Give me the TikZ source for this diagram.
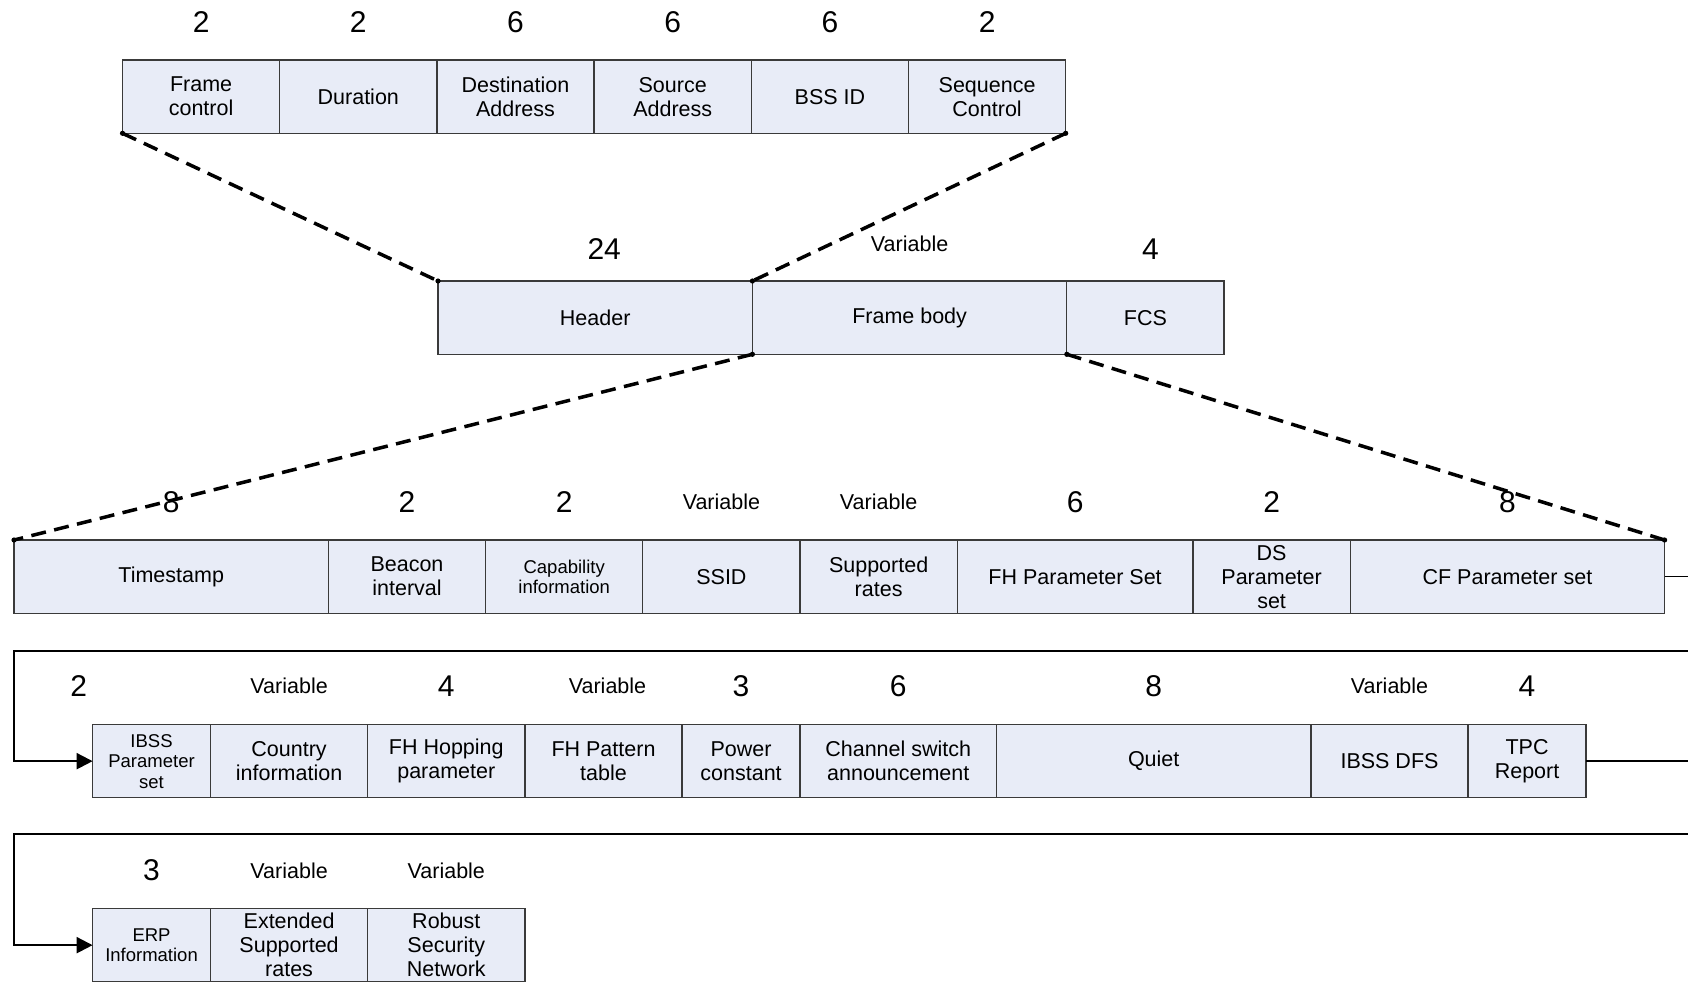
\documentclass[tikz,border=0pt]{standalone}
\usepackage{fontspec}
\setmainfont{Liberation Sans}
\usetikzlibrary{arrows.meta}

\definecolor{boxfill}{HTML}{E8ECF7}
\definecolor{boxline}{HTML}{3A3A3A}

\newcommand{\lblfont}{\fontsize{21.5}{24}\selectfont}
\newcommand{\smallfont}{\fontsize{18.5}{20.5}\selectfont}
\newcommand{\numfont}{\fontsize{30}{30}\selectfont}

\begin{document}
\begin{tikzpicture}[x=1pt,y=-1pt,
  field/.style={draw=boxline, fill=boxfill, line width=1.3pt, inner sep=0pt,
    outer sep=0pt, minimum height=73.3pt, anchor=north west, align=center,
    font=\lblfont},
  w/.style={minimum width=#1*78.6pt},
  small/.style={font=\smallfont},
  num/.style={font=\numfont, anchor=base, inner sep=0pt},
  var/.style={font=\lblfont, anchor=base, inner sep=0pt},
  zoomlink/.style={line width=3.5pt, dash pattern=on 15pt off 8.5pt},
  stub/.style={line width=1.6pt},
  feed/.style={line width=2.2pt, -{Triangle[length=16pt,width=16pt]}},
]
\useasboundingbox (0,0) rectangle (1688,982);
\clip (0,0) rectangle (1688,982);
\fill[white] (0,0) rectangle (1688,982);

% baselines of the size labels, one per row
\coordinate (bA)  at (0,32.3);
\coordinate (bB)  at (0,259);
\coordinate (bBv) at (0,251);
\coordinate (bC)  at (0,512.3);
\coordinate (bCv) at (0,509);
\coordinate (bD)  at (0,696.5);
\coordinate (bDv) at (0,693);
\coordinate (bE)  at (0,880.5);
\coordinate (bEv) at (0,878);

% MAC header fields
\node[field,w=2] (fc)  at (122.5,60)     {Frame\\control};
\node[field,w=2] (dur) at (fc.north east)  {Duration};
\node[field,w=2] (da)  at (dur.north east) {Destination\\Address};
\node[field,w=2] (sa)  at (da.north east)  {Source\\Address};
\node[field,w=2] (bss) at (sa.north east)  {BSS ID};
\node[field,w=2] (seq) at (bss.north east) {Sequence\\Control};
\node[num] (nfc)  at (fc |- bA)  {2};
\node[num] (ndur) at (dur |- bA) {2};
\node[num] (nda)  at (da |- bA)  {6};
\node[num] (nsa)  at (sa |- bA)  {6};
\node[num] (nbss) at (bss |- bA) {6};
\node[num] (nseq) at (seq |- bA) {2};

% MAC frame
\node[field,w=4] (hdr)  at (438,281)        {Header};
\node[field,w=4] (body) at (hdr.north east)  {Frame body};
\node[field,w=2] (fcs)  at (body.north east) {FCS};
\node[num,xshift=9pt] (nhdr) at (hdr |- bB) {24};
\node[var] (nbody) at (body |- bBv) {Variable};
\node[num,xshift=5pt] (nfcs) at (fcs |- bB) {4};

% beacon frame body, first line
\node[field,w=4] (ts)   at (14,540)         {Timestamp};
\node[field,w=2] (bi)   at (ts.north east)   {Beacon\\interval};
\node[field,w=2,small] (cap) at (bi.north east) {Capability\\information};
\node[field,w=2] (ssid) at (cap.north east)  {SSID};
\node[field,w=2] (sr)   at (ssid.north east) {Supported\\rates};
\node[field,w=3] (fh)   at (sr.north east)   {FH Parameter Set};
\node[field,w=2] (ds)   at (fh.north east)   {DS\\Parameter\\set};
\node[field,w=4] (cf)   at (ds.north east)   {CF Parameter set};
\node[num] (nts)   at (ts |- bC)    {8};
\node[num] (nbi)   at (bi |- bC)    {2};
\node[num] (ncap)  at (cap |- bC)   {2};
\node[var] (nssid) at (ssid |- bCv) {Variable};
\node[var] (nsr)   at (sr |- bCv)   {Variable};
\node[num] (nfh)   at (fh |- bC)    {6};
\node[num] (nds)   at (ds |- bC)    {2};
\node[num] (ncf)   at (cf |- bC)    {8};

% second line
\node[field,w=1.5,small] (ibss) at (92.6,724.5) {IBSS\\Parameter\\set};
\node[field,w=2]   (ci)    at (ibss.north east) {Country\\information};
\node[field,w=2]   (fhh)   at (ci.north east)   {FH Hopping\\parameter};
\node[field,w=2]   (fhp)   at (fhh.north east)  {FH Pattern\\table};
\node[field,w=1.5] (pc)    at (fhp.north east)  {Power\\constant};
\node[field,w=2.5] (csa)   at (pc.north east)   {Channel switch\\announcement};
\node[field,w=4]   (quiet) at (csa.north east)  {Quiet};
\node[field,w=2]   (dfs)   at (quiet.north east) {IBSS DFS};
\node[field,w=1.5] (tpc)   at (dfs.north east)  {TPC\\Report};
\node[num] (nibss)  at (78.6,696.5)   {2};
\node[var] (nci)    at (ci |- bDv)    {Variable};
\node[num] (nfhh)   at (fhh |- bD)    {4};
\node[var,xshift=4pt] (nfhp) at (fhp |- bDv) {Variable};
\node[num] (npc)    at (pc |- bD)     {3};
\node[num] (ncsa)   at (csa |- bD)    {6};
\node[num] (nquiet) at (quiet |- bD)  {8};
\node[var] (ndfs)   at (dfs |- bDv)   {Variable};
\node[num] (ntpc)   at (tpc |- bD)    {4};

% third line
\node[field,w=1.5,small] (erp) at (92.6,908.5) {ERP\\Information};
\node[field,w=2] (esr) at (erp.north east) {Extended\\Supported\\rates};
\node[field,w=2] (rsn) at (esr.north east) {Robust\\Security\\Network};
\node[num] (nerp) at (erp |- bE)  {3};
\node[var] (nesr) at (esr |- bEv) {Variable};
\node[var] (nrsn) at (rsn |- bEv) {Variable};

% line continuations
\path (cf.east) ++(60,0) coordinate (cfout);
\draw[stub] (cf.east) -- (cfout);
\coordinate (wrapD) at (1700,650.7);
\coordinate (leftD) at (14,650.7);
\draw[feed] (wrapD) -- (leftD) |- (ibss.west);

\path (tpc.east) ++(140,0) coordinate (tpcout);
\draw[stub] (tpc.east) -- (tpcout);
\coordinate (wrapE) at (1700,834.3);
\coordinate (leftE) at (14,834.3);
\draw[feed] (wrapE) -- (leftE) |- (erp.west);

% expansion guides
\draw[zoomlink] (fc.south west) -- (hdr.north west);
\draw[zoomlink] (seq.south east) -- (body.north west);
\draw[zoomlink] (body.south west) -- (ts.north west);
\draw[zoomlink] (body.south east) -- (cf.north east);
\foreach \p in {fc.south west, hdr.north west, seq.south east, body.north west,
                body.south west, ts.north west, body.south east, cf.north east}
  \fill (\p) circle (2.6);
\end{tikzpicture}
\end{document}
